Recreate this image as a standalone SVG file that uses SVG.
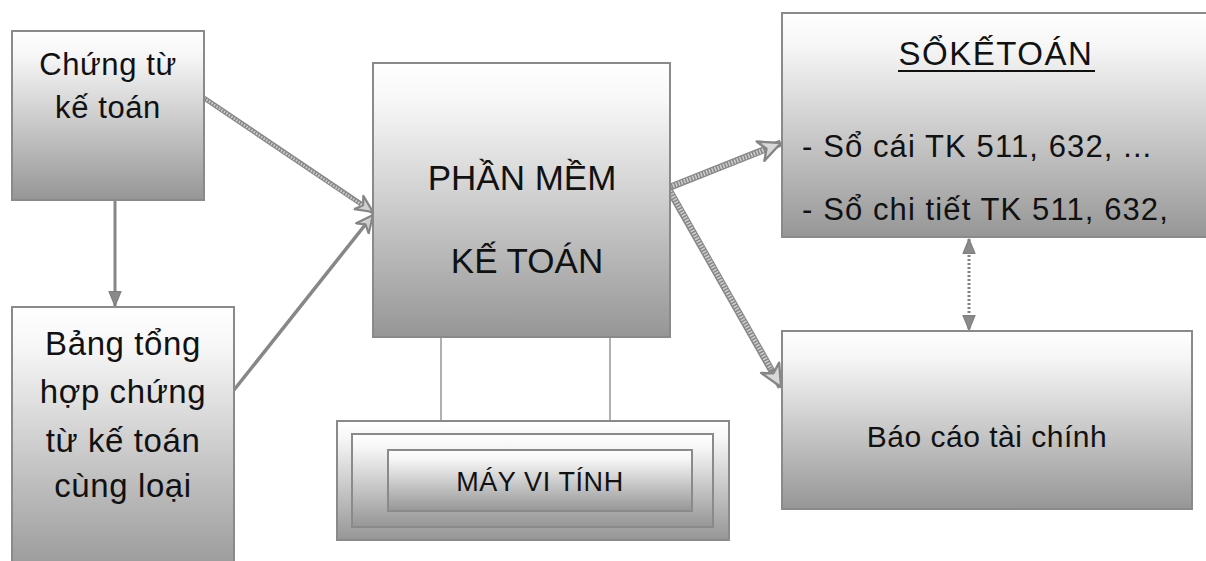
<svg xmlns="http://www.w3.org/2000/svg" width="1206" height="561" viewBox="0 0 1206 561">
<defs>
<linearGradient id="g" x1="0" y1="0" x2="0" y2="1">
<stop offset="0" stop-color="#ffffff"/>
<stop offset="0.15" stop-color="#f6f6f6"/>
<stop offset="1" stop-color="#969696"/>
</linearGradient>
<marker id="ahBig" viewBox="0 0 20 20" refX="18" refY="10" markerWidth="26" markerHeight="26" markerUnits="userSpaceOnUse" orient="auto">
<path d="M1,2 L18,10 L1,18 L6,10 Z" fill="#d8d8d8" stroke="#858585" stroke-width="1.8" stroke-linejoin="round"/>
</marker>
<marker id="ahMid" viewBox="0 0 20 20" refX="18" refY="10" markerWidth="20" markerHeight="20" markerUnits="userSpaceOnUse" orient="auto">
<path d="M1,2 L18,10 L1,18 L6,10 Z" fill="#d0d0d0" stroke="#858585" stroke-width="2.2" stroke-linejoin="round"/>
</marker>
<marker id="ahSolid" viewBox="0 0 20 20" refX="18" refY="10" markerWidth="17" markerHeight="17" markerUnits="userSpaceOnUse" orient="auto-start-reverse">
<path d="M1,3 L18,10 L1,17 Z" fill="#8a8a8a" stroke="#808080" stroke-width="1.5" stroke-linejoin="round"/>
</marker>
</defs>
<style>
.box{fill:url(#g);stroke:#8a8a8a;stroke-width:2}
.t{font-family:"Liberation Sans",Arial,sans-serif;fill:#111;text-anchor:middle}
.base{stroke:#878787;fill:none;stroke-linecap:butt}
.hatch{stroke:#cfcfcf;fill:none;stroke-dasharray:1.5 1.5}
.thin{stroke:#b0b0b0;stroke-width:2;fill:none}
</style>

<g id="connectors">
<line class="base" x1="115" y1="201" x2="115" y2="306" stroke-width="3" marker-end="url(#ahSolid)"/>
<line class="base" x1="204" y1="98" x2="373" y2="212" stroke-width="5" marker-end="url(#ahMid)"/>
<line class="hatch" x1="204" y1="98" x2="362" y2="205" stroke-width="2.5"/>
<line class="base" x1="234" y1="390" x2="373" y2="215" stroke-width="3.5" marker-end="url(#ahMid)"/>
<line class="base" x1="668" y1="188" x2="781" y2="143" stroke-width="7" marker-end="url(#ahBig)"/>
<line class="hatch" x1="670" y1="187" x2="764" y2="150" stroke-width="4.5"/>
<line class="base" x1="668" y1="188" x2="781" y2="387" stroke-width="7" marker-end="url(#ahBig)"/>
<line class="hatch" x1="670" y1="191" x2="771" y2="369" stroke-width="4.5"/>
<line x1="969" y1="239" x2="969" y2="330" stroke="#808080" stroke-width="3" stroke-dasharray="2 2" marker-start="url(#ahSolid)" marker-end="url(#ahSolid)"/>
<line class="thin" x1="441" y1="337" x2="441" y2="421"/>
<line class="thin" x1="610" y1="337" x2="610" y2="421"/>
</g>

<g id="node-chung-tu">
<rect class="box" x="12" y="31" width="192" height="169"/>
<text class="t" x="108" y="75" font-size="31" letter-spacing="0.6">Chứng từ</text>
<text class="t" x="108" y="118" font-size="31" letter-spacing="0.6">kế toán</text>
</g>

<g id="node-bang-tong-hop">
<rect class="box" x="12" y="307" width="222" height="272"/>
<text class="t" x="123" y="355" font-size="33" letter-spacing="0.6">Bảng tổng</text>
<text class="t" x="123" y="403" font-size="33" letter-spacing="0.6">hợp chứng</text>
<text class="t" x="123" y="452" font-size="33" letter-spacing="0.6">từ kế toán</text>
<text class="t" x="123" y="497" font-size="33" letter-spacing="0.6">cùng loại</text>
</g>

<g id="node-phan-mem">
<rect class="box" x="373" y="63" width="297" height="274"/>
<text class="t" x="522" y="190" font-size="35" fill="#000">PHẦN MỀM</text>
<text class="t" x="527" y="273" font-size="35" fill="#000">KẾ TOÁN</text>
</g>

<g id="node-may-vi-tinh">
<rect class="box" x="337" y="421" width="392" height="119"/>
<rect class="box" x="352" y="434" width="361" height="93"/>
<rect class="box" x="388" y="450" width="304" height="61"/>
<text class="t" x="540" y="491" font-size="27" letter-spacing="0.6">MÁY VI TÍNH</text>
</g>

<g id="node-so-ke-toan">
<rect class="box" x="782" y="13" width="430" height="224"/>
<text class="t" x="996" y="65" font-size="33" letter-spacing="1.5">SỔKẾTOÁN</text>
<line x1="898" y1="71" x2="1095" y2="71" stroke="#111" stroke-width="2"/>
<text class="t" x="802" y="157" font-size="31" letter-spacing="1.1" style="text-anchor:start">- Sổ cái TK 511, 632, ...</text>
<text class="t" x="802" y="220" font-size="31" letter-spacing="1.1" style="text-anchor:start">- Sổ chi tiết TK 511, 632,</text>
</g>

<g id="node-bao-cao">
<rect class="box" x="782" y="331" width="410" height="178"/>
<text class="t" x="987" y="447" font-size="30" letter-spacing="0.5">Báo cáo tài chính</text>
</g>
</svg>
